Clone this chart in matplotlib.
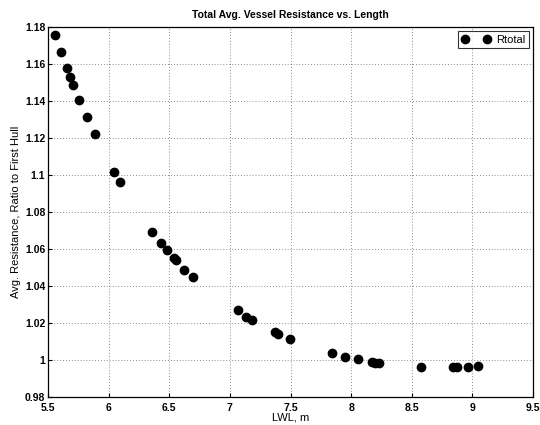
import matplotlib.pyplot as plt

# LWL (m) and total resistance ratio for each hull variant
lwl = [5.558, 5.605, 5.657, 5.681, 5.709, 5.758, 5.819, 5.885,
       6.042, 6.091, 6.355, 6.432, 6.481, 6.536, 6.553, 6.622, 6.693,
       7.064, 7.136, 7.185, 7.372, 7.394, 7.496,
       7.839, 7.949, 8.059, 8.169, 8.197, 8.227,
       8.574, 8.843, 8.871, 8.964, 9.044]
rtotal = [1.1753, 1.1663, 1.1577, 1.1531, 1.1488, 1.1404, 1.1314, 1.1223,
          1.1018, 1.0964, 1.0689, 1.0632, 1.0593, 1.0550, 1.0539, 1.0485, 1.0449,
          1.0270, 1.0234, 1.0216, 1.0150, 1.0142, 1.0115,
          1.0036, 1.0016, 1.0004, 0.9991, 0.9986, 0.9986,
          0.9964, 0.9961, 0.9961, 0.9962, 0.9966]

xticks = [5.5, 6, 6.5, 7, 7.5, 8, 8.5, 9, 9.5]
yticks = [0.98, 1, 1.02, 1.04, 1.06, 1.08, 1.1, 1.12, 1.14, 1.16, 1.18]

plt.rcParams['font.family'] = ['Liberation Sans', 'DejaVu Sans']

fig = plt.figure(figsize=(5.4, 4.25), dpi=100)
ax = fig.add_axes([0.089, 0.066, 0.898, 0.871])

ax.plot(lwl, rtotal, 'o', color='black', markersize=6, label='Rtotal')

ax.set_xlim(5.5, 9.5)
ax.set_ylim(0.98, 1.18)
ax.set_xticks(xticks)
ax.set_xticklabels(['5.5', '6', '6.5', '7', '7.5', '8', '8.5', '9', '9.5'])
ax.set_yticks(yticks)
ax.set_yticklabels(['0.98', '1', '1.02', '1.04', '1.06', '1.08', '1.1',
                    '1.12', '1.14', '1.16', '1.18'])
ax.tick_params(direction='in', length=3, labelsize=7.5, width=0.8)
ax.tick_params(axis='x', pad=4)
ax.tick_params(axis='y', pad=2)
for lab in ax.get_xticklabels() + ax.get_yticklabels():
    lab.set_fontweight('bold')

ax.grid(True, linestyle=(0, (1, 2.5)), color='#666666', linewidth=0.6)
for s in ax.spines.values():
    s.set_linewidth(0.9)

ax.set_title('Total Avg. Vessel Resistance vs. Length', fontsize=7.5,
             fontweight='bold', pad=6)
ax.set_xlabel('LWL, m', fontsize=8, labelpad=0)
ax.set_ylabel('Avg. Resistance, Ratio to First Hull', fontsize=8, labelpad=3)

leg = ax.legend(loc='upper right', numpoints=2, fontsize=8, frameon=True,
                fancybox=False, edgecolor='black', handlelength=2.6,
                borderpad=0.3, handletextpad=0.5, borderaxespad=0.4)
leg.get_frame().set_linewidth(0.8)

fig.savefig('out.png', dpi=100)
